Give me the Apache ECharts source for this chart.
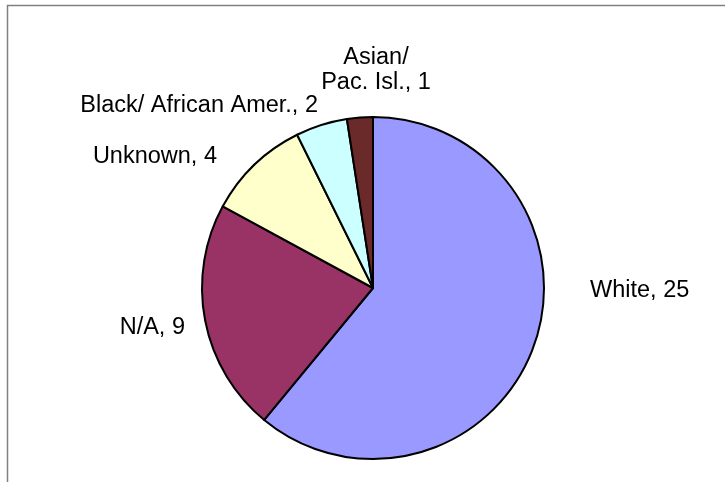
<!DOCTYPE html>
<html>
<head>
<meta charset="utf-8">
<script src="https://cdn.jsdelivr.net/npm/echarts@6/dist/echarts.min.js"></script>
<style>
  html, body { margin: 0; padding: 0; background: #ffffff; }
  #chart { width: 725px; height: 482px; }
</style>
</head>
<body>
<div id="chart"></div>
<script>
// Participants by race/ethnicity
const categories = ['White', 'N/A', 'Unknown', 'Black/ African Amer.', 'Asian/\nPac. Isl.'];
const counts = [25, 9, 4, 2, 1];
const sliceColors = ['#9999ff', '#993366', '#ffffcc', '#ccffff', '#6b2a2a'];

// Where each data label sits (anchor point and text alignment)
const labelAnchors = [
  { x: 590, y: 291, align: 'left' },
  { x: 185, y: 328, align: 'right' },
  { x: 217, y: 157, align: 'right' },
  { x: 318, y: 106, align: 'right' },
  { x: 376, y: 70, align: 'center' }
];

const chart = echarts.init(document.getElementById('chart'), null, { renderer: 'canvas' });

const data = categories.map((name, i) => ({
  name: name,
  value: counts[i],
  itemStyle: { color: sliceColors[i] }
}));

chart.setOption({
  animation: false,
  backgroundColor: '#ffffff',
  graphic: [{
    type: 'rect',
    shape: { x: 7.5, y: 5.5, width: 800, height: 600 },
    style: { fill: 'none', stroke: '#808080', lineWidth: 1.5 },
    silent: true
  }],
  series: [{
    type: 'pie',
    center: [373, 288],
    radius: [0, 171],
    startAngle: 90,
    clockwise: true,
    avoidLabelOverlap: false,
    itemStyle: { borderColor: '#000000', borderWidth: 2 },
    emphasis: { disabled: true },
    label: {
      show: true,
      position: 'outside',
      formatter: p => p.name + ', ' + p.value,
      fontFamily: 'Liberation Sans, Arial, sans-serif',
      fontSize: 23.5,
      lineHeight: 25,
      color: '#000000'
    },
    labelLine: { show: false },
    labelLayout: function (params) {
      const a = labelAnchors[params.dataIndex];
      return { x: a.x, y: a.y, align: a.align, verticalAlign: 'middle', hideOverlap: false };
    },
    data: data
  }]
});
</script>
</body>
</html>
